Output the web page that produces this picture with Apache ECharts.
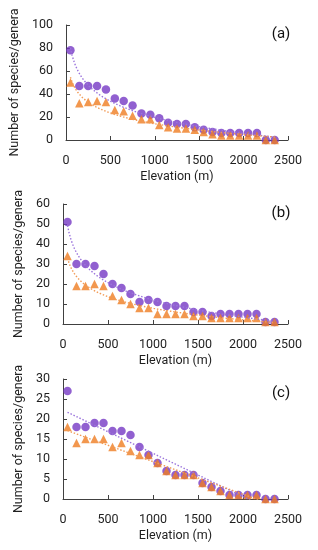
<!DOCTYPE html>
<html>
<head>
<meta charset="utf-8">
<script src="https://cdn.jsdelivr.net/npm/echarts@6/dist/echarts.min.js"></script>
<style>
html,body{margin:0;padding:0;background:#fff;}
#chart{width:318px;height:550px;}
</style>
</head>
<body>
<div id="chart"></div>
<script>
// Elevation band midpoints (m)
const elevation = [50,150,250,350,450,550,650,750,850,950,1050,1150,1250,1350,1450,1550,1650,1750,1850,1950,2050,2150,2250,2350];

// Panel (a)
const aSpecies = [78,47,47,47,44,36,34,30,23,22,19,15,14,14,11,9,7,6,6,6,6,6,0,0];
const aGenera  = [50,32,33,34,33,26,25,21,18,18,13,11,10,10,9,7,5,4,4,4,4,4,0,0];
// Panel (b)
const bSpecies = [51,30,30,29,25,20,18,15,11,12,11,9,9,9,6,6,4,5,5,5,5,5,1,1];
const bGenera  = [34,19,19,20,19,14,12,10,8,8,5,5,5,5,4,4,3,3,3,3,3,3,1,1];
// Panel (c)
const cSpecies = [27,18,18,19,19,17,17,16,13,11,9,7,6,6,6,4,3,2,1,1,1,1,0,0];
const cGenera  = [18,14,15,15,15,13,14,12,11,11,9,7,6,6,6,4,3,2,1,1,1,1,0,0];

const xTicks = [0,500,1000,1500,2000,2500];
const yMax = [100,60,30];
const yStep = [20,10,5];
const panelLabels = ['(a)','(b)','(c)'];
const fitKind = ['log','log','linear'];

const PURPLE = '#7538c4';
const ORANGE = '#ef7d22';
const FONT = 'Roboto';
const TXT = '#1f1f1f';
const AXIS = '#404040';

// least-squares trend line (like a spreadsheet trendline) computed from the data
function fit(xs, ys, kind){
  const tx = kind === 'log' ? xs.map(v => Math.log(v)) : xs.slice();
  const n = tx.length;
  const mx = tx.reduce((s,v)=>s+v,0)/n;
  const my = ys.reduce((s,v)=>s+v,0)/n;
  let sxy = 0, sxx = 0;
  for (let i=0;i<n;i++){ sxy += (tx[i]-mx)*(ys[i]-my); sxx += (tx[i]-mx)*(tx[i]-mx); }
  const b = sxy/sxx, a = my - b*mx;
  const out = [];
  const x0 = xs[0], x1 = xs[xs.length-1];
  const steps = 120;
  for (let k=0;k<=steps;k++){
    const x = x0 + (x1-x0)*k/steps;
    const t = kind === 'log' ? Math.log(x) : x;
    out.push([x, a + b*t]);
  }
  return out;
}

const panels = [[aSpecies,aGenera],[bSpecies,bGenera],[cSpecies,cGenera]];
const grids = [
  {left:63, top:25, width:225, height:115},
  {left:63, top:204, width:225, height:120},
  {left:63, top:379, width:225, height:120}
];

const xAxes = [], yAxes = [], series = [];
panels.forEach((p, i) => {
  xAxes.push({
    gridIndex:i, type:'value', min:xTicks[0], max:xTicks[xTicks.length-1], interval:500,
    name:'Elevation (m)', nameLocation:'middle', nameGap:30,
    nameTextStyle:{fontFamily:FONT, fontSize:12.5, color:TXT},
    axisLine:{show:true, lineStyle:{color:AXIS, width:1}},
    axisTick:{show:true, inside:true, length:4, lineStyle:{color:AXIS}},
    axisLabel:{fontFamily:FONT, fontSize:12.5, color:TXT, margin:14, formatter:v=>String(v)},
    splitLine:{show:false}
  });
  yAxes.push({
    gridIndex:i, type:'value', min:0, max:yMax[i], interval:yStep[i],
    name:'Number of species/genera', nameLocation:'middle', nameGap:35,
    nameTextStyle:{fontFamily:FONT, fontSize:12.5, color:TXT},
    axisLine:{show:true, lineStyle:{color:AXIS, width:1}},
    axisTick:{show:true, inside:true, length:4, lineStyle:{color:AXIS}},
    axisLabel:{fontFamily:FONT, fontSize:12.5, color:TXT, margin:13, formatter:v=>String(v)},
    splitLine:{show:false}
  });
  series.push({
    type:'scatter', xAxisIndex:i, yAxisIndex:i, symbol:'circle', symbolSize:8.5,
    itemStyle:{color:PURPLE}, data: elevation.map((x,j)=>[x,p[0][j]]), z:3
  });
  series.push({
    type:'scatter', xAxisIndex:i, yAxisIndex:i, symbol:'triangle', symbolSize:8.5,
    itemStyle:{color:ORANGE}, data: elevation.map((x,j)=>[x,p[1][j]]), z:4
  });
  series.push({
    type:'line', xAxisIndex:i, yAxisIndex:i, showSymbol:false, symbol:'none', smooth:false,
    clip:true, lineStyle:{color:'#9b74dc', width:1.4, type:[1.5,1.8]},
    data: fit(elevation, p[0], fitKind[i]), z:5, silent:true
  });
  series.push({
    type:'line', xAxisIndex:i, yAxisIndex:i, showSymbol:false, symbol:'none', smooth:false,
    clip:true, lineStyle:{color:'#f29a55', width:1.4, type:[1.5,1.8]},
    data: fit(elevation, p[1], fitKind[i]), z:5, silent:true
  });
});

const labelPos = [[281,34],[281,213],[281,393]];
const graphic = panelLabels.map((t,i)=>({
  type:'text', x:labelPos[i][0], y:labelPos[i][1],
  style:{text:t, fontFamily:FONT, fontSize:15, fill:'#111', textAlign:'center', textVerticalAlign:'middle'}
}));

const chart = echarts.init(document.getElementById('chart'), null, {renderer:'canvas'});
chart.setOption({
  animation:false,
  backgroundColor:'#fff',
  grid:grids,
  xAxis:xAxes,
  yAxis:yAxes,
  series:series,
  graphic:graphic
});
</script>
</body>
</html>
